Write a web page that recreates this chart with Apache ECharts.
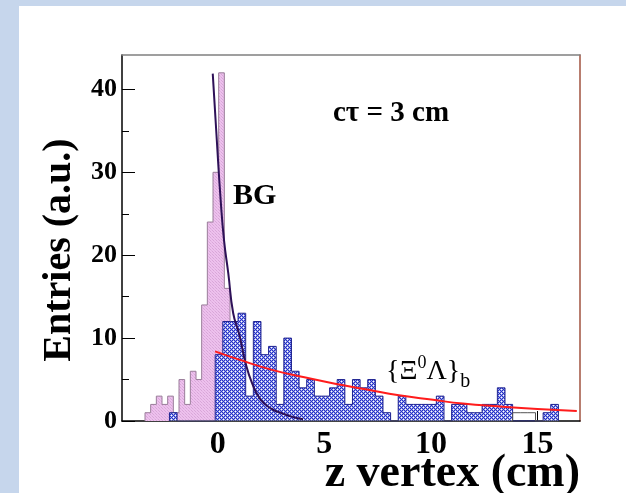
<!DOCTYPE html>
<html>
<head>
<meta charset="utf-8">
<script src="https://cdn.jsdelivr.net/npm/echarts@6/dist/echarts.min.js"></script>
<style>
html,body{margin:0;padding:0;width:626px;height:493px;background:#c6d6ec;overflow:hidden;}
#paper{position:absolute;left:19px;top:6px;right:0;bottom:0;background:#fff;}
#chart{position:absolute;left:0;top:0;width:626px;height:493px;}
</style>
</head>
<body>
<div id="paper"></div>
<div id="chart"></div>
<script>
// ---- data ----
const xTickValues = [0, 5, 10, 15];
const yLabelValues = [0, 10, 20, 30, 40];
const yMinorTicks = [5, 15, 25, 35];

// BG histogram (pink)
const bgStart = -3.42;
const bgWidth = 0.266;
const bgValues = [1, 2, 3, 2, 3, 1, 5, 2, 6, 5, 14, 24, 30, 42, 16];

// signal histogram (blue)
const sigStart = -2.273;
const sigWidth = 0.358;
const sigValues = [1, 0, 0, 0, 0, 0,
  8, 12, 12, 13, 3, 12, 8, 9, 2, 10, 6, 4, 5, 3, 3, 4, 5, 2, 5, 4, 5, 3, 1, 0,
  3, 2, 2, 2, 2, 3, 0, 2, 2, 1, 1, 2, 2, 4, 2, 0, 0, 0, 0, 1, 2];
// unfilled bins drawn as outline only (same binning as signal)
const openValues = [0, 0, 0, 0, 0, 0,
  0, 0, 0, 0, 0, 0, 0, 0, 0, 0, 0, 0, 0, 0, 0, 0, 0, 0, 0, 0, 0, 0, 0, 0,
  0, 0, 0, 0, 0, 0, 0, 0, 0, 0, 0, 0, 0, 0, 0, 1, 1, 1, 0, 0, 0];

// BG fit curve
const bgFitX = [-0.24, -0.05, 0.13, 0.29, 0.49, 0.72, 1.0, 1.3, 1.6, 2.0, 2.5, 3.0, 3.5, 4.0];
const bgFitY = [41.9, 33.9, 26.7, 21.8, 17.8, 13.0, 10.5, 7.0, 4.6, 2.6, 1.5, 0.95, 0.5, 0.2];

// signal fit curve (red)
const sigFitX = [-0.13, 1.0, 2.5, 4.0, 5.5, 7.0, 8.5, 10.1, 11.5, 13.25, 15.0, 16.85];
const sigFitY = [8.4, 7.4, 6.2, 5.3, 4.5, 3.8, 3.1, 2.55, 2.1, 1.75, 1.45, 1.2];

// ---- helpers ----
function histPoints(start, width, values) {
  const pts = [[start, 0]];
  values.forEach((v, i) => pts.push([start + i * width, v]));
  const end = start + values.length * width;
  pts.push([end, values[values.length - 1]]);
  pts.push([end, 0]);
  return pts;
}
function zip(xs, ys) { return xs.map((x, i) => [x, ys[i]]); }

function makeTile(size, base, dots) {
  const c = document.createElement('canvas');
  c.width = size; c.height = size;
  const g = c.getContext('2d');
  g.fillStyle = base; g.fillRect(0, 0, size, size);
  dots.forEach(d => { g.fillStyle = d[2]; g.fillRect(d[0], d[1], 1, 1); });
  return c;
}
const blueTile = makeTile(4, '#2430c6', [
  [1, 1, '#ffffff'], [3, 3, '#ffffff'],
  [0, 1, '#9aa2ea'], [2, 1, '#9aa2ea'], [1, 0, '#9aa2ea'], [1, 2, '#9aa2ea'],
  [2, 3, '#9aa2ea'], [3, 2, '#9aa2ea'], [0, 3, '#9aa2ea'], [3, 0, '#9aa2ea']
]);
const pinkTile = makeTile(3, '#edc1ed', [
  [0, 0, '#d9a6d9'], [1, 1, '#e3b3e3'], [2, 2, '#d9a6d9']
]);

const FONT = 'Liberation Serif';
const chart = echarts.init(document.getElementById('chart'), null, {renderer: 'canvas'});

const option = {
  animation: false,
  grid: {left: 122, top: 55, right: 46, bottom: 72, containLabel: false, outerBoundsMode: 'none'},
  xAxis: [{
    type: 'value', min: -4.5, max: 17,
    axisLine: {onZero: false, lineStyle: {color: '#000', width: 1.5}},
    axisTick: {customValues: xTickValues, inside: true, length: 10, lineStyle: {color: '#000'}},
    axisLabel: {customValues: xTickValues, margin: 8, color: '#000',
      fontFamily: FONT, fontWeight: 'bold', fontSize: 32},
    splitLine: {show: false}
  }, {
    type: 'value', min: -4.5, max: 17, position: 'top',
    axisLine: {onZero: false, lineStyle: {color: '#808080', width: 1.5}},
    axisTick: {show: false}, axisLabel: {show: false}, splitLine: {show: false}
  }],
  yAxis: [{
    type: 'value', min: 0, max: 44.15,
    axisLine: {show: true, onZero: false, lineStyle: {color: '#000', width: 1.5}},
    axisTick: {customValues: yLabelValues, inside: true, length: 13, lineStyle: {color: '#000'}},
    axisLabel: {customValues: yLabelValues, margin: 5, color: '#000',
      fontFamily: FONT, fontWeight: 'bold', fontSize: 26},
    splitLine: {show: false},
    name: 'Entries (a.u.)', nameLocation: 'middle', nameGap: 42,
    nameTextStyle: {fontFamily: FONT, fontWeight: 'bold', fontSize: 40, color: '#000',
      padding: [0, 24, 0, 0]}
  }, {
    type: 'value', min: 0, max: 44.15, position: 'left',
    axisLine: {show: false, onZero: false},
    axisTick: {customValues: yMinorTicks, inside: true, length: 7, lineStyle: {color: '#000'}},
    axisLabel: {show: false}, splitLine: {show: false}
  }, {
    type: 'value', min: 0, max: 44.15, position: 'right',
    axisLine: {show: true, onZero: false, lineStyle: {color: '#a0523f', width: 1.5}},
    axisTick: {show: false}, axisLabel: {show: false}, splitLine: {show: false}
  }],
  series: [
    {
      type: 'line', step: 'end', symbol: 'none', z: 2,
      data: histPoints(bgStart, bgWidth, bgValues),
      lineStyle: {color: '#9a7d9a', width: 1},
      areaStyle: {color: {image: pinkTile, repeat: 'repeat'}, opacity: 1}
    },
    {
      type: 'line', step: 'end', symbol: 'none', z: 3,
      data: histPoints(sigStart, sigWidth, sigValues),
      lineStyle: {color: '#1e2290', width: 1},
      areaStyle: {color: {image: blueTile, repeat: 'repeat'}, opacity: 1}
    },
    {
      type: 'line', step: 'end', symbol: 'none', z: 3,
      data: histPoints(sigStart, sigWidth, openValues),
      lineStyle: {color: '#555', width: 1}
    },
    {
      type: 'line', smooth: true, symbol: 'none', z: 5,
      data: zip(bgFitX, bgFitY),
      lineStyle: {color: '#2e1158', width: 2}
    },
    {
      type: 'line', smooth: true, symbol: 'none', z: 5,
      data: zip(sigFitX, sigFitY),
      lineStyle: {color: '#ff1c1c', width: 2}
    }
  ],
  graphic: [
    {type: 'text', right: 46, top: 451, z: 10,
      style: {text: 'z vertex (cm)', font: 'bold 46px "Liberation Serif"', fill: '#000'}},
    {type: 'text', left: 333, top: 99, z: 10,
      style: {text: 'cτ = 3 cm', font: 'bold 29px "Liberation Serif"', fill: '#000'}},
    {type: 'text', left: 233, top: 181, z: 10,
      style: {text: 'BG', font: 'bold 30px "Liberation Serif"', fill: '#000'}},
    {type: 'text', left: 386, top: 352, z: 10,
      style: {
        text: '{Ξ{sup|0}Λ}{sub|b}',
        font: '28px "Liberation Serif"', fill: '#000', lineHeight: 40,
        rich: {
          sup: {fontSize: 18, fontFamily: FONT, verticalAlign: 'top', lineHeight: 40, padding: [2, 0, 0, 0]},
          sub: {fontSize: 20, fontFamily: FONT, verticalAlign: 'bottom', lineHeight: 40, padding: [0, 0, 0, 0]}
        }
      }}
  ]
};
chart.setOption(option);
</script>
</body>
</html>
